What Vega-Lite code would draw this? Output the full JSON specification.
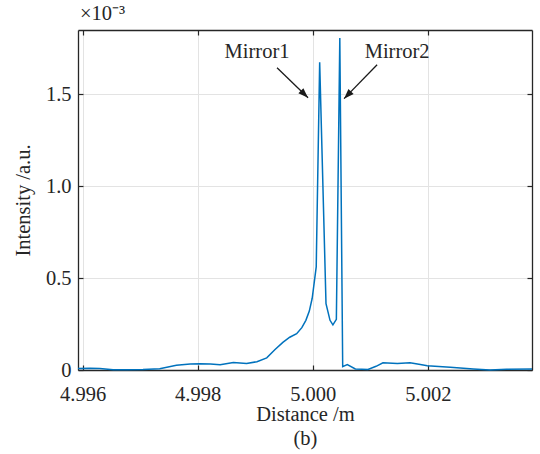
{
  "$schema": "https://vega.github.io/schema/vega-lite/v6.json",
  "width": 454,
  "height": 340,
  "autosize": {"type": "none"},
  "padding": {"left": 78, "top": 30, "right": 8, "bottom": 84},
  "background": "white",
  "title": {"text": "×10⁻³", "anchor": "start", "frame": "group", "offset": 5, "font": "Liberation Serif", "fontSize": 20.5, "fontWeight": "normal", "color": "#262626", "dx": 2},
  "config": {
    "view": {"stroke": null},
    "axis": {"labelFont": "Liberation Serif", "titleFont": "Liberation Serif", "labelFontSize": 20.5, "titleFontSize": 20.5, "titleFontWeight": "normal", "labelColor": "#262626", "titleColor": "#262626", "domainColor": "#262626", "domainWidth": 1.3, "tickColor": "#262626", "tickWidth": 1.2, "gridColor": "#e3e3e3", "gridWidth": 1, "gridOpacity": 1}
  },
  "datasets": {
    "signal": [
      {"distance": 4.99592, "intensity": 0.008e-3},
      {"distance": 4.99613, "intensity": 0.010e-3},
      {"distance": 4.99630, "intensity": 0.008e-3},
      {"distance": 4.99653, "intensity": 0.001e-3},
      {"distance": 4.99678, "intensity": 0.002e-3},
      {"distance": 4.99705, "intensity": 0.003e-3},
      {"distance": 4.99734, "intensity": 0.007e-3},
      {"distance": 4.99763, "intensity": 0.026e-3},
      {"distance": 4.99787, "intensity": 0.033e-3},
      {"distance": 4.99804, "intensity": 0.034e-3},
      {"distance": 4.99822, "intensity": 0.032e-3},
      {"distance": 4.99839, "intensity": 0.028e-3},
      {"distance": 4.99862, "intensity": 0.041e-3},
      {"distance": 4.99885, "intensity": 0.036e-3},
      {"distance": 4.99903, "intensity": 0.045e-3},
      {"distance": 4.99920, "intensity": 0.066e-3},
      {"distance": 4.99934, "intensity": 0.110e-3},
      {"distance": 4.99948, "intensity": 0.150e-3},
      {"distance": 4.99960, "intensity": 0.178e-3},
      {"distance": 4.99972, "intensity": 0.197e-3},
      {"distance": 4.99981, "intensity": 0.230e-3},
      {"distance": 4.99988, "intensity": 0.270e-3},
      {"distance": 4.99994, "intensity": 0.320e-3},
      {"distance": 4.99999, "intensity": 0.390e-3},
      {"distance": 5.00006, "intensity": 0.560e-3},
      {"distance": 5.00012, "intensity": 1.672e-3},
      {"distance": 5.00023, "intensity": 0.360e-3},
      {"distance": 5.00030, "intensity": 0.270e-3},
      {"distance": 5.00035, "intensity": 0.245e-3},
      {"distance": 5.00041, "intensity": 0.275e-3},
      {"distance": 5.00047, "intensity": 1.805e-3},
      {"distance": 5.00052, "intensity": 0.018e-3},
      {"distance": 5.00060, "intensity": 0.030e-3},
      {"distance": 5.00074, "intensity": 0.006e-3},
      {"distance": 5.00096, "intensity": 0.003e-3},
      {"distance": 5.00110, "intensity": 0.020e-3},
      {"distance": 5.00122, "intensity": 0.039e-3},
      {"distance": 5.00147, "intensity": 0.035e-3},
      {"distance": 5.00169, "intensity": 0.039e-3},
      {"distance": 5.00187, "intensity": 0.030e-3},
      {"distance": 5.00199, "intensity": 0.023e-3},
      {"distance": 5.00239, "intensity": 0.015e-3},
      {"distance": 5.00279, "intensity": 0.006e-3},
      {"distance": 5.00308, "intensity": 0.000e-3},
      {"distance": 5.00337, "intensity": 0.004e-3},
      {"distance": 5.00381, "intensity": 0.006e-3}
    ],
    "notes": [
      {"label": "Mirror1", "tx": 4.999031, "ty": 1.730e-3, "x1": 4.999379, "y1": 1.643e-3, "x2": 4.999918, "y2": 1.480e-3},
      {"label": "Mirror2", "tx": 5.001466, "ty": 1.730e-3, "x1": 5.001118, "y1": 1.659e-3, "x2": 5.000544, "y2": 1.475e-3}
    ]
  },
  "resolve": {"axis": {"x": "independent", "y": "independent"}},
  "layer": [
    {
      "data": {"name": "signal"},
      "mark": {"type": "line", "color": "#0072BD", "strokeWidth": 1.5},
      "encoding": {
        "x": {"field": "distance", "type": "quantitative", "scale": {"domain": [4.99592, 5.00381], "nice": false, "zero": false},
              "axis": {"orient": "bottom", "values": [4.996, 4.998, 5.0, 5.002], "format": ".3f", "title": ["Distance /m", "(b)"], "titlePadding": 0, "titleLineHeight": 24, "tickSize": -5, "labelPadding": 19, "grid": true}},
        "y": {"field": "intensity", "type": "quantitative", "scale": {"domain": [0, 0.001848], "nice": false, "zero": true},
              "axis": {"orient": "left", "values": [0, 0.0005, 0.001, 0.0015], "labelExpr": "datum.value == 0 ? '0' : format(datum.value * 1000, '.1f')", "title": "Intensity /a.u.", "titlePadding": 12, "tickSize": -5, "labelPadding": 12, "grid": true}}
      }
    },
    {
      "data": {"name": "signal"},
      "mark": {"type": "line", "opacity": 0},
      "encoding": {
        "x": {"field": "distance", "type": "quantitative", "scale": {"domain": [4.99592, 5.00381], "nice": false, "zero": false},
              "axis": {"orient": "top", "values": [4.996, 4.998, 5.0, 5.002], "labels": false, "title": null, "tickSize": -5, "grid": false}},
        "y": {"field": "intensity", "type": "quantitative", "scale": {"domain": [0, 0.001848], "nice": false, "zero": true},
              "axis": {"orient": "right", "values": [0, 0.0005, 0.001, 0.0015], "labels": false, "title": null, "tickSize": -5, "grid": false}}
      }
    },
    {
      "data": {"name": "notes"},
      "mark": {"type": "rule", "color": "#1a1a1a", "strokeWidth": 1.3},
      "encoding": {
        "x": {"field": "x1", "type": "quantitative", "axis": null},
        "y": {"field": "y1", "type": "quantitative", "axis": null},
        "x2": {"field": "x2"},
        "y2": {"field": "y2"}
      }
    },
    {
      "data": {"name": "notes"},
      "transform": [{"filter": "datum.label == 'Mirror1'"}],
      "mark": {"type": "point", "shape": "M0,0L-0.36,1L0.36,1Z", "filled": true, "color": "#1a1a1a", "opacity": 1, "size": 400, "angle": 134},
      "encoding": {
        "x": {"field": "x2", "type": "quantitative", "axis": null},
        "y": {"field": "y2", "type": "quantitative", "axis": null}
      }
    },
    {
      "data": {"name": "notes"},
      "transform": [{"filter": "datum.label == 'Mirror2'"}],
      "mark": {"type": "point", "shape": "M0,0L-0.36,1L0.36,1Z", "filled": true, "color": "#1a1a1a", "opacity": 1, "size": 400, "angle": 224},
      "encoding": {
        "x": {"field": "x2", "type": "quantitative", "axis": null},
        "y": {"field": "y2", "type": "quantitative", "axis": null}
      }
    },
    {
      "data": {"name": "notes"},
      "mark": {"type": "text", "font": "Liberation Serif", "fontSize": 20.5, "color": "#262626", "align": "center", "baseline": "middle"},
      "encoding": {
        "x": {"field": "tx", "type": "quantitative", "axis": null},
        "y": {"field": "ty", "type": "quantitative", "axis": null},
        "text": {"field": "label"}
      }
    }
  ]
}
